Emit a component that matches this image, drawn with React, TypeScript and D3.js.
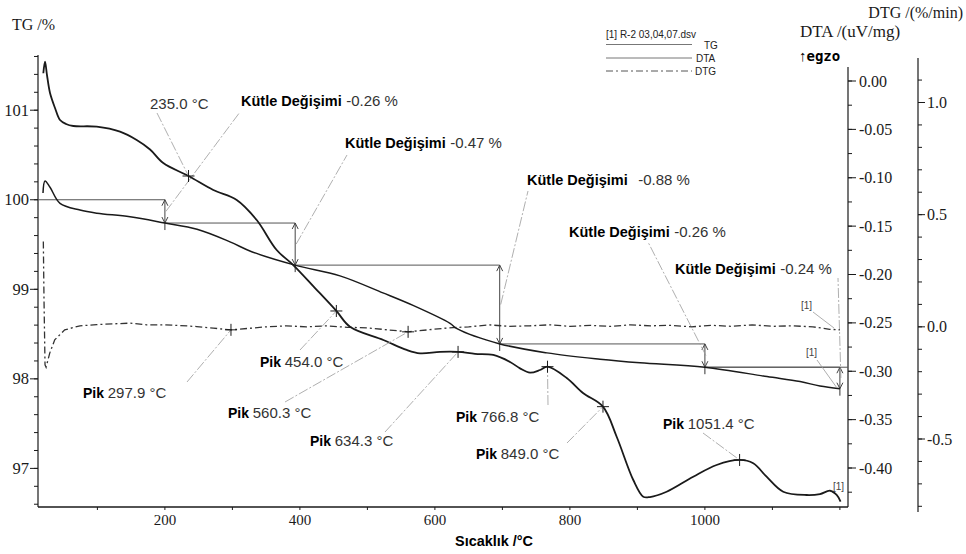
import React from "react";
import * as d3 from "d3";

// ---------- DATA ----------
// TG curve (temperature °C, mass %)
const tgT = [19.4, 22.4, 29.8, 44.6, 74.2, 99.4, 148.3, 200, 247.6, 296.4, 328.6, 392.7, 459.4, 523, 567.6, 622.4, 632.7, 696.4, 766, 844.6, 903.9, 1000, 1092, 1141, 1170.5, 1200];
const tgV = [100.075, 100.21, 100.14, 99.96, 99.885, 99.85, 99.81, 99.74, 99.67, 99.53, 99.42, 99.27, 99.15, 98.96, 98.82, 98.62, 98.56, 98.39, 98.29, 98.22, 98.18, 98.13, 98.025, 97.97, 97.92, 97.89];

// DTA curve (temperature °C, uV/mg)
const dtaT = [19.9, 22.4, 25.3, 29.8, 37.2, 44.6, 53.5, 64.3, 99, 133.5, 158.2, 178, 197.6, 235, 271.7, 306.4, 336, 365.6, 390.2, 422.4, 454, 474.2, 523.6, 558.2, 578, 607.6, 634.3, 659.4, 686.5, 711.3, 726.1, 740.9, 755.7, 766.8, 795.3, 819.4, 849, 869.3, 893.9, 908.7, 918.6, 943.3, 982.7, 1017.3, 1051.4, 1071.6, 1091.4, 1116, 1150.8, 1170.5, 1185.3, 1195.2, 1201];
const dtaV = [0.008, 0.0199, 0.0062, -0.0124, -0.0279, -0.0403, -0.0444, -0.0465, -0.0472, -0.0524, -0.061, -0.0708, -0.0848, -0.0982, -0.1127, -0.123, -0.1437, -0.1747, -0.1902, -0.214, -0.2377, -0.254, -0.2677, -0.278, -0.2815, -0.28, -0.28, -0.282, -0.2832, -0.2904, -0.297, -0.3015, -0.2987, -0.2953, -0.307, -0.3225, -0.3366, -0.3677, -0.4124, -0.4297, -0.43, -0.4245, -0.409, -0.3969, -0.3917, -0.3951, -0.409, -0.4245, -0.4279, -0.4269, -0.4235, -0.4279, -0.4348];

// DTG curve (temperature °C, %/min)
const dtgT = [19.9, 20.9, 22.4, 24, 29.4, 36.8, 51.6, 74.2, 99, 123.6, 148.3, 173, 197.6, 222.4, 247, 271.7, 297.9, 325, 350, 380, 410, 440, 470, 500, 530, 560.3, 590, 620, 650, 680, 710, 740, 770, 800, 830, 860, 890, 920, 950, 980, 1010, 1040, 1070, 1100, 1130, 1160, 1185, 1200];
const dtgV = [0.38, 0.12, -0.169, -0.18, -0.117, -0.058, -0.0134, 0.0045, 0.01, 0.0134, 0.0165, 0.0089, 0.0089, 0.0058, 0.0013, -0.0058, -0.0134, -0.0067, 0, 0.0045, 0, 0.0045, -0.0022, -0.0045, -0.0134, -0.0223, -0.0134, -0.0045, 0, 0.0089, 0.0022, 0.0045, 0.0089, 0.0022, 0.0067, 0.0022, 0.0089, 0.0045, 0.0067, 0, 0.0067, 0.0022, 0.0089, 0.0022, 0.0045, 0, -0.011, -0.0134];

// Mass change steps (TG)
const tgStart = 100.0;
const stepT = [200, 393, 696, 1000, 1200];
const stepChange = [-0.26, -0.47, -0.88, -0.26, -0.24];

// Peaks
const dtaPeakT = [235.0, 454.0, 634.3, 766.8, 849.0, 1051.4];
const dtgPeakT = [297.9, 560.3];

// Ticks
const xMajor = [200, 400, 600, 800, 1000];
const xMinor = [100, 200, 300, 400, 500, 600, 700, 800, 900, 1000, 1100, 1200];
const tgMajor = [97, 98, 99, 100, 101];
const dtaMajor = [0, -0.05, -0.1, -0.15, -0.2, -0.25, -0.3, -0.35, -0.4];
const dtgMajor = [1.0, 0.5, 0.0, -0.5];

// ---------- LAYOUT ----------
const W = 966, H = 554;
const x = d3.scaleLinear().domain([12, 1212]).range([38, 848]);
const yTG = d3.scaleLinear().domain([97, 101]).range([468.4, 110.2]);
const yDTA = d3.scaleLinear().domain([-0.4, 0]).range([468, 81]);
const yDTG = d3.scaleLinear().domain([-0.5, 1.0]).range([439, 102.5]);
const BOTTOM = 507;

const SERIF = "'Liberation Serif', 'DejaVu Serif', serif";
const SANS = "'Liberation Sans', Arial, sans-serif";
const INK = "#1a1a1a";
const LEAD = "#9a9a9a";

function Cross({ cx, cy, s = 6 }: { cx: number; cy: number; s?: number }) {
  return (
    <g stroke={INK} strokeWidth={1}>
      <line x1={cx - s} x2={cx + s} y1={cy} y2={cy} />
      <line x1={cx} x2={cx} y1={cy - s} y2={cy + s} />
    </g>
  );
}

function DArrow({ ax, y1, y2 }: { ax: number; y1: number; y2: number }) {
  const h = 6, w = 3;
  return (
    <g stroke="#444" strokeWidth={1} fill="none">
      <line x1={ax} x2={ax} y1={y1} y2={y2} />
      <path d={`M${ax - w},${y1 + h} L${ax},${y1} L${ax + w},${y1 + h}`} />
      <path d={`M${ax - w},${y2 - h} L${ax},${y2} L${ax + w},${y2 - h}`} />
    </g>
  );
}

export default function App() {
  const tgLine = d3.line<number>().x((_, i) => x(tgT[i])).y((v) => yTG(v)).curve(d3.curveCatmullRom.alpha(0.5));
  const dtaLine = d3.line<number>().x((_, i) => x(dtaT[i])).y((v) => yDTA(v)).curve(d3.curveCatmullRom.alpha(0.5));
  const dtgLine = d3.line<number>().x((_, i) => x(dtgT[i])).y((v) => yDTG(v)).curve(d3.curveLinear);

  // step levels
  const levels: number[] = [tgStart];
  stepChange.forEach((c) => levels.push(+(levels[levels.length - 1] + c).toFixed(2)));

  const tgMinor = d3.range(96.6, 101.61, 0.2);
  const dtaMinor = d3.range(0.0, -0.441, -0.025);
  const dtgMinor = d3.range(1.1, -0.81, -0.1);

  const dtaAt = (t: number) => {
    const i = d3.bisectLeft(dtaT, t);
    if (i <= 0) return dtaV[0];
    if (i >= dtaT.length) return dtaV[dtaV.length - 1];
    const f = (t - dtaT[i - 1]) / (dtaT[i] - dtaT[i - 1]);
    return dtaV[i - 1] + f * (dtaV[i] - dtaV[i - 1]);
  };
  const dtgAt = (t: number) => {
    const i = d3.bisectLeft(dtgT, t);
    if (i <= 0) return dtgV[0];
    if (i >= dtgT.length) return dtgV[dtgV.length - 1];
    const f = (t - dtgT[i - 1]) / (dtgT[i] - dtgT[i - 1]);
    return dtgV[i - 1] + f * (dtgV[i] - dtgV[i - 1]);
  };

  // label layouts (text start x, baseline y, leader end at label)
  const stepLabels = [
    { tx: 241, ty: 106, lx: 240, ly: 112, gap: "0.3em" },
    { tx: 345, ty: 148, lx: 347, ly: 155, gap: "0.3em" },
    { tx: 527, ty: 184.5, lx: 528, ly: 191, gap: "0.7em" },
    { tx: 569, ty: 237, lx: 648, ly: 242, gap: "0.3em" },
    { tx: 675, ty: 273.5, lx: 838, ly: 278, gap: "0.3em" },
  ];
  const dtaPeakLabels = [
    { tx: 150, ty: 108.5, lx: 157, ly: 113, pik: false },
    { tx: 260, ty: 366.5, lx: 300, ly: 350, pik: true },
    { tx: 310, ty: 445.5, lx: 385, ly: 432, pik: true },
    { tx: 456, ty: 421.5, lx: 548, ly: 405, pik: true },
    { tx: 476, ty: 458.5, lx: 567, ly: 443, pik: true },
    { tx: 663, ty: 428.5, lx: 703, ly: 433, pik: true },
  ];
  const dtgPeakLabels = [
    { tx: 83, ty: 397.5, lx: 187, ly: 382 },
    { tx: 228, ty: 417.5, lx: 285, ly: 402 },
  ];

  const fmtT = (t: number) => `${t.toFixed(1)} °C`;

  return (
    <svg width={W} height={H} style={{ position: "absolute", left: 0, top: 0, background: "#fff" }}>
      {/* axis titles */}
      <text x={12} y={30} fontFamily={SERIF} fontSize={16} fill={INK}>TG /%</text>
      <text x={800} y={37} fontFamily={SERIF} fontSize={17} fill={INK}>DTA /(uV/mg)</text>
      <text x={963} y={18} fontFamily={SERIF} fontSize={16} fill={INK} textAnchor="end">DTG /(%/min)</text>
      <text x={799} y={61} fontFamily={SANS} fontSize={15} fill="#000">↑<tspan fontWeight="bold" fontFamily="'DejaVu Sans Mono', monospace" fontSize={14}>egzo</tspan></text>
      <text x={494} y={546} fontFamily={SANS} fontSize={15} fontWeight="bold" fill="#000" textAnchor="middle" textLength={78} lengthAdjust="spacingAndGlyphs">Sıcaklık /°C</text>

      {/* legend */}
      <text x={606} y={38} fontFamily={SANS} fontSize={10} fill="#222">[1] R-2 03,04,07.dsv</text>
      <line x1={606} x2={692} y1={44.5} y2={44.5} stroke="#777" strokeWidth={1} />
      <text x={704} y={49} fontFamily={SANS} fontSize={10} fill="#222">TG</text>
      <line x1={606} x2={692} y1={58} y2={58} stroke="#777" strokeWidth={1} />
      <text x={696} y={62} fontFamily={SANS} fontSize={10} fill="#222">DTA</text>
      <line x1={606} x2={692} y1={71} y2={71} stroke="#555" strokeWidth={1} strokeDasharray="7 3 2 3" />
      <text x={695} y={75} fontFamily={SANS} fontSize={10} fill="#222">DTG</text>

      {/* left TG axis */}
      <line x1={38} x2={38} y1={55} y2={BOTTOM} stroke={INK} strokeWidth={1.2} />
      {tgMinor.map((v, i) => (
        <line key={"tm" + i} x1={34} x2={38} y1={yTG(v)} y2={yTG(v)} stroke={INK} strokeWidth={1} />
      ))}
      {tgMajor.map((v) => (
        <g key={"tg" + v}>
          <line x1={30} x2={38} y1={yTG(v)} y2={yTG(v)} stroke={INK} strokeWidth={1} />
          <text x={29} y={yTG(v) + 5.5} fontFamily={SERIF} fontSize={16.5} textAnchor="end" fill={INK}>{v}</text>
        </g>
      ))}

      {/* bottom axis */}
      <line x1={38} x2={848} y1={BOTTOM} y2={BOTTOM} stroke={INK} strokeWidth={1.4} />
      {xMinor.map((v) => (
        <line key={"xm" + v} x1={x(v)} x2={x(v)} y1={BOTTOM} y2={BOTTOM + 3} stroke={INK} strokeWidth={1} />
      ))}
      {xMajor.map((v) => (
        <text key={"xl" + v} x={x(v)} y={525} fontFamily={SERIF} fontSize={15} textAnchor="middle" fill={INK}>{v}</text>
      ))}

      {/* DTA axis */}
      <line x1={848} x2={848} y1={67} y2={BOTTOM} stroke={INK} strokeWidth={1.2} />
      {dtaMinor.map((v, i) => (
        <line key={"dm" + i} x1={848} x2={852} y1={yDTA(v)} y2={yDTA(v)} stroke={INK} strokeWidth={1} />
      ))}
      {dtaMajor.map((v) => (
        <g key={"da" + v}>
          <line x1={848} x2={856} y1={yDTA(v)} y2={yDTA(v)} stroke={INK} strokeWidth={1} />
          <text x={859} y={yDTA(v) + 5.5} fontFamily={SERIF} fontSize={16} fill={INK}>{v === 0 ? "0.00" : v.toFixed(2)}</text>
        </g>
      ))}

      {/* DTG axis */}
      <line x1={918} x2={918} y1={58} y2={512} stroke={INK} strokeWidth={1.2} />
      {dtgMinor.map((v, i) => (
        <line key={"gm" + i} x1={918} x2={922} y1={yDTG(v)} y2={yDTG(v)} stroke={INK} strokeWidth={1} />
      ))}
      {dtgMajor.map((v) => (
        <g key={"dg" + v}>
          <line x1={918} x2={925} y1={yDTG(v)} y2={yDTG(v)} stroke={INK} strokeWidth={1} />
          <text x={927} y={yDTG(v) + 5.5} fontFamily={SERIF} fontSize={16} fill={INK}>{v.toFixed(1)}</text>
        </g>
      ))}

      {/* step annotations */}
      {stepT.map((t, i) => {
        const x0 = i === 0 ? x(12) : x(stepT[i - 1]);
        const x1 = i === stepT.length - 1 ? 848 : x(t);
        const yPrev = yTG(levels[i]);
        const yNew = yTG(levels[i + 1]);
        const hx1 = i === stepT.length - 1 ? x(t) : x1;
        return (
          <g key={"st" + i}>
            <line x1={x0} x2={i === stepT.length - 1 ? hx1 : x1} y1={yPrev} y2={yPrev} stroke="#555" strokeWidth={1} />
            {i === stepT.length - 2 && null}
            <DArrow ax={x(t)} y1={yPrev} y2={yNew} />
            <line x1={x(t)} x2={x(t)} y1={yNew} y2={yNew + 7} stroke="#333" strokeWidth={1} />
          </g>
        );
      })}
      {/* continuation of last level to axis */}
      <line x1={x(stepT[stepT.length - 2])} x2={848} y1={yTG(levels[levels.length - 2])} y2={yTG(levels[levels.length - 2])} stroke="#555" strokeWidth={1} />
      {/* step leaders + labels */}
      {stepT.map((t, i) => {
        const L = stepLabels[i];
        const mid = (yTG(levels[i]) + yTG(levels[i + 1])) / 2;
        return (
          <g key={"sl" + i}>
            <line x1={x(t) + 1} y1={mid} x2={L.lx} y2={L.ly} stroke={LEAD} strokeWidth={0.8} strokeDasharray="10 2 2 2" />
            <text x={L.tx} y={L.ty} fontFamily={SANS} fontSize={14.5} fill="#000">
              <tspan fontWeight="bold">Kütle Değişimi</tspan>
              <tspan dx={L.gap} fontSize={15} fill="#333">{stepChange[i].toFixed(2)} %</tspan>
            </text>
          </g>
        );
      })}

      {/* curves */}
      <path d={dtgLine(dtgV) || ""} fill="none" stroke="#333" strokeWidth={1.3} strokeDasharray="7 3 2 3" />
      <path d={tgLine(tgV) || ""} fill="none" stroke={INK} strokeWidth={1.5} />
      <path d={dtaLine(dtaV) || ""} fill="none" stroke={INK} strokeWidth={1.8} />

      {/* DTA peaks */}
      {dtaPeakT.map((t, i) => {
        const L = dtaPeakLabels[i];
        const py = yDTA(dtaAt(t));
        return (
          <g key={"dp" + i}>
            <line x1={L.lx} y1={L.ly} x2={x(t)} y2={py} stroke={LEAD} strokeWidth={0.8} strokeDasharray="10 2 2 2" />
            <Cross cx={x(t)} cy={py} />
            <text x={L.tx} y={L.ty} fontFamily={SANS} fontSize={15} fill="#000">
              {L.pik ? <tspan fontWeight="bold" fontSize={14}>Pik</tspan> : null}
              <tspan dx={L.pik ? "0.25em" : 0} fill="#333">{fmtT(t)}</tspan>
            </text>
          </g>
        );
      })}

      {/* DTG peaks */}
      {dtgPeakT.map((t, i) => {
        const L = dtgPeakLabels[i];
        const py = yDTG(dtgAt(t));
        return (
          <g key={"gp" + i}>
            <line x1={L.lx} y1={L.ly} x2={x(t)} y2={py} stroke={LEAD} strokeWidth={0.8} strokeDasharray="10 2 2 2" />
            <Cross cx={x(t)} cy={py} />
            <text x={L.tx} y={L.ty} fontFamily={SANS} fontSize={15} fill="#000">
              <tspan fontWeight="bold" fontSize={14}>Pik</tspan>
              <tspan dx="0.25em" fill="#333">{fmtT(t)}</tspan>
            </text>
          </g>
        );
      })}

      {/* [1] end markers */}
      <text x={801} y={309} fontFamily={SANS} fontSize={10} fill="#444">[1]</text>
      <line x1={813} y1={312} x2={834} y2={328} stroke={LEAD} strokeWidth={0.8} />
      <text x={806} y={356} fontFamily={SANS} fontSize={10} fill="#444">[1]</text>
      <line x1={817} y1={360} x2={837} y2={388} stroke={LEAD} strokeWidth={0.8} />
      <text x={833} y={490} fontFamily={SANS} fontSize={10} fill="#444">[1]</text>
    </svg>
  );
}
